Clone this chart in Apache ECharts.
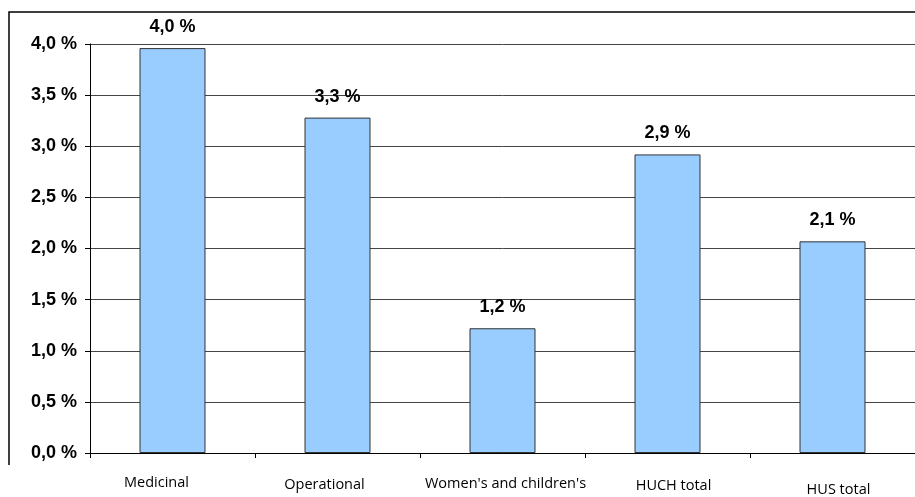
<!DOCTYPE html>
<html>
<head>
<meta charset="utf-8">
<script src="https://cdn.jsdelivr.net/npm/echarts@6/dist/echarts.min.js"></script>
<style>
html, body { margin: 0; padding: 0; background: #fff; }
#chart { width: 915px; height: 497px; }
</style>
</head>
<body>
<div id="chart"></div>
<script>
var categories = ['Medicinal', 'Operational', "Women's and children's", 'HUCH total', 'HUS total'];
var values = [3.96, 3.28, 1.22, 2.92, 2.07];
var yTicks = [0, 0.5, 1, 1.5, 2, 2.5, 3, 3.5, 4];

// small nudges of the category labels, as in the original picture
var labelShiftX = [-16, -13, 3, 6, 6];
var labelShiftY = [0, 2, 1, 3, 7];

function pct(v) {
    return v.toFixed(1).replace('.', ',') + ' %';
}

var rich = {};
categories.forEach(function (c, i) {
    var dx = labelShiftX[i];
    rich['c' + i] = {
        fontFamily: 'Open Sans',
        fontSize: 14.5,
        color: '#000',
        padding: [labelShiftY[i], dx < 0 ? -2 * dx : 0, 0, dx > 0 ? 2 * dx : 0]
    };
});

var myChart = echarts.init(document.getElementById('chart'));
var option = {
    animation: false,
    grid: { left: 90, right: 0, top: 44, bottom: 44 },
    graphic: [{
        type: 'polyline',
        shape: { points: [[9, 465], [9, 12], [915, 12]] },
        style: { stroke: '#000', lineWidth: 1.5, fill: null }
    }],
    xAxis: {
        type: 'category',
        data: categories,
        axisLine: { lineStyle: { color: '#000', width: 1 } },
        axisTick: { show: true, length: 5, lineStyle: { color: '#000' } },
        axisLabel: {
            margin: 22,
            interval: 0,
            formatter: function (v, i) { return '{c' + i + '|' + v + '}'; },
            rich: rich
        }
    },
    yAxis: {
        type: 'value',
        min: 0,
        max: 4,
        interval: 0.5,
        axisLine: { show: true, lineStyle: { color: '#000', width: 1 } },
        axisTick: { show: true, length: 5, lineStyle: { color: '#000' } },
        axisLabel: {
            margin: 13,
            fontFamily: 'Liberation Sans',
            fontWeight: 'bold',
            fontSize: 18,
            color: '#000',
            formatter: function (v) { return yTicks.indexOf(v) >= 0 ? pct(v) : ''; }
        },
        splitLine: { show: true, lineStyle: { color: '#444', width: 1 } }
    },
    series: [{
        type: 'bar',
        data: values,
        barWidth: '40%',
        itemStyle: { color: '#99CCFF', borderColor: '#333', borderWidth: 1 },
        label: {
            show: true,
            position: 'top',
            distance: 12,
            fontFamily: 'Liberation Sans',
            fontWeight: 'bold',
            fontSize: 18,
            color: '#000',
            formatter: function (p) { return pct(p.value); }
        }
    }]
};
myChart.setOption(option);
window.addEventListener("resize", function () { myChart.resize(); });
</script>
</body>
</html>
